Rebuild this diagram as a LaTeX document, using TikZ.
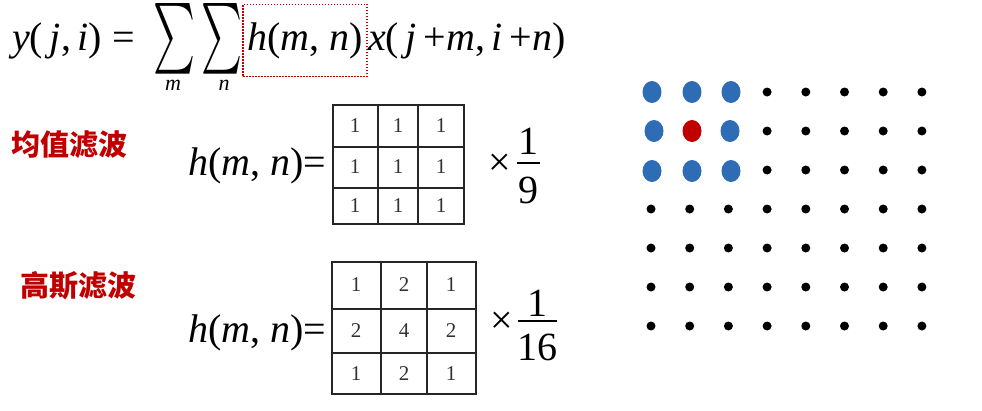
\documentclass[tikz,border=0pt]{standalone}
\usepackage{graphicx}
\usepackage{fontspec}
\setmainfont{Liberation Serif}
\newfontfamily\cjk{Noto Sans CJK SC}
\usepackage{tikz}
\usetikzlibrary{positioning, shapes.geometric, calc}

\definecolor{filtred}{RGB}{192,0,0}
\definecolor{kernblue}{RGB}{46,108,182}
\definecolor{numgray}{RGB}{50,50,50}

\begin{document}
\begin{tikzpicture}[x=1pt, y=-1pt]
	% 样式
	\tikzset{
		formula/.style={font=\fontsize{40}{48}\selectfont, inner sep=0pt},
		bigsum/.style={inner sep=0pt},
		sub/.style={font=\fontsize{22}{26}\selectfont\itshape, inner sep=0pt},
		cntitle/.style={font=\fontsize{29}{34}\selectfont\cjk\bfseries, text=filtred, inner sep=0pt},
		cell/.style={font=\fontsize{21}{25}\selectfont, text=numgray, inner sep=0pt},
		grid line/.style={line width=1.4pt, black!85},
		fracbar/.style={line width=1.6pt},
		pixel/.style={circle, fill=black, minimum size=9pt, inner sep=0pt},
		kernel/.style={ellipse, fill=kernblue, minimum width=19pt, minimum height=22pt, inner sep=0pt}
	}
	\useasboundingbox (0,0) rectangle (982,410);
	
	% 卷积公式
	\node[formula, anchor=base west] (lhs) at (12,50) {\textit{y}(\,\textit{j},\,\textit{i}) =};
	\node[bigsum] (summ) at (174,39) {\resizebox{42pt}{53pt}{$\sum$}};
	\node[bigsum] (sumn) at (222,39) {\resizebox{41pt}{53pt}{$\sum$}};
	\node[sub] (subm) at (173,85) {m};
	\node[sub] (subn) at (224,85) {n};
	\node[formula, anchor=base, draw=filtred, line width=1.5pt, dash pattern=on 1.5pt off 1.5pt,
		minimum width=124pt, minimum height=72pt] (hmn) at (305,50) {\textit{h}(\textit{m}, \textit{n})};
	\node[formula, anchor=base west] (xpart) at (368,50) {\textit{x}(\,\textit{j}\,+\textit{m},\,\textit{i}\,+\textit{n})};
	
	% 均值滤波
	\node[cntitle] (meantitle) at (69,145) {均值滤波};
	\node[formula, anchor=base west] (hmean) at (188,175) {\textit{h}(\textit{m}, \textit{n})=};
	\draw[grid line] (333,105) rectangle (464,224);
	\draw[grid line] (378,105) -- (378,224) (418,105) -- (418,224)
		(333,147) -- (464,147) (333,188) -- (464,188);
	\foreach \y/\a/\b/\c [count=\r] in {126/1/1/1, 167/1/1/1, 206/1/1/1} {
		\node[cell] (mean\r-a) at (355,\y) {\a};
		\node[cell] (mean\r-b) at (398,\y) {\b};
		\node[cell] (mean\r-c) at (441,\y) {\c};
	}
	\node[formula] (tmean) at (500,165) {×};
	\node[formula] (nummean) at (528,141) {1};
	\node[formula] (denmean) at (528,190) {9};
	\draw[fracbar] (517,163) -- (540,163);
	
	% 高斯滤波
	\node[cntitle] (gausstitle) at (78,286) {高斯滤波};
	\node[formula, anchor=base west] (hgauss) at (188,342) {\textit{h}(\textit{m}, \textit{n})=};
	\draw[grid line] (332,262) rectangle (476,394);
	\draw[grid line] (381,262) -- (381,394) (427,262) -- (427,394)
		(332,309) -- (476,309) (332,353) -- (476,353);
	\foreach \y/\a/\b/\c [count=\r] in {285/1/2/1, 331/2/4/2, 374/1/2/1} {
		\node[cell] (gauss\r-a) at (356,\y) {\a};
		\node[cell] (gauss\r-b) at (404,\y) {\b};
		\node[cell] (gauss\r-c) at (451,\y) {\c};
	}
	\node[formula] (tgauss) at (502,323) {×};
	\node[formula] (numgauss) at (537,303) {1};
	\node[formula] (dengauss) at (537,347) {16};
	\draw[fracbar] (518,321) -- (557,321);
	
	% 像素点阵
	\foreach \i in {0,...,7} {
		\foreach \j in {0,...,6} {
			\node[pixel] (p\i-\j) at ({651+38.7*\i},{92+39*\j}) {};
		}
	}
	
	% 3x3 邻域
	\foreach \x/\y [count=\k] in {652/92, 692/92, 731/92, 654/131, 730/131, 652/171, 692/171, 731/171} {
		\node[kernel] (nb\k) at (\x,\y) {};
	}
	\node[kernel, fill=filtred] (centre) at (692,131) {};
\end{tikzpicture}
\end{document}
